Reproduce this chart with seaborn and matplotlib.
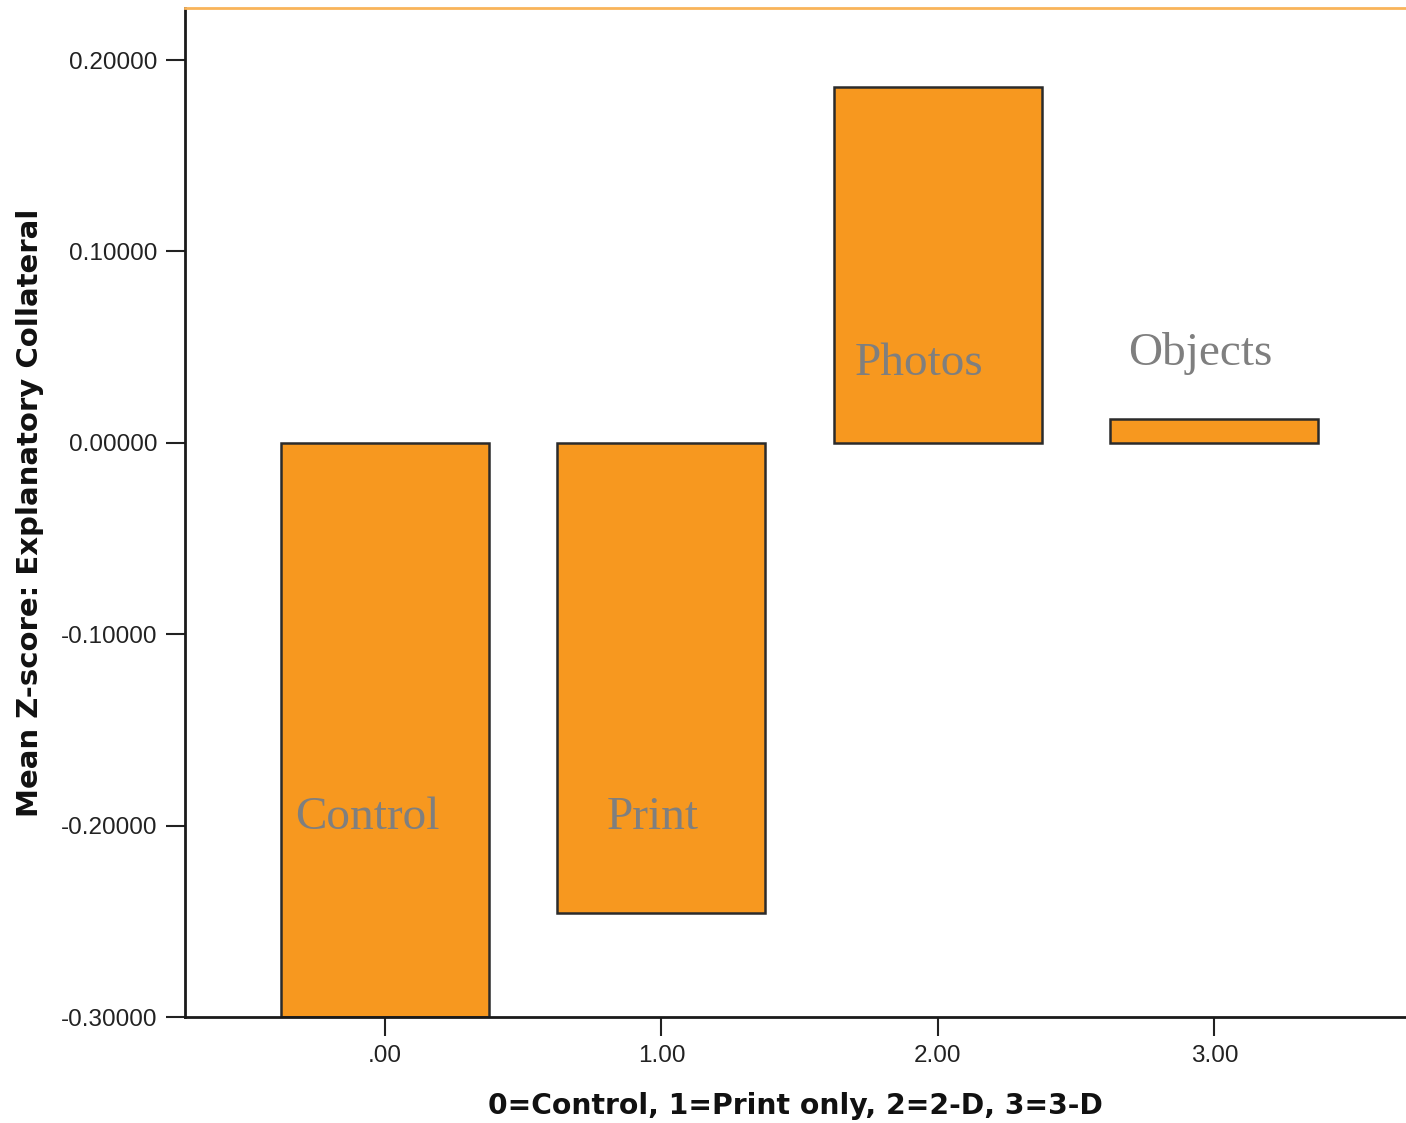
import matplotlib
matplotlib.use("Agg")
import matplotlib.pyplot as plt
import seaborn as sns
import pandas as pd

# data
groups = [".00", "1.00", "2.00", "3.00"]
mean_z = [-0.300, -0.2455, 0.1860, 0.0125]
group_names = ["Control", "Print", "Photos", "Objects"]
y_ticks = [-0.3, -0.2, -0.1, 0.0, 0.1, 0.2]
y_tick_labels = ["-0.30000", "-0.20000", "-0.10000", "0.00000", "0.10000", "0.20000"]

sns.set_style("white")
plt.rcParams['font.family'] = ['Liberation Sans', 'DejaVu Sans']

fig = plt.figure(figsize=(14.06, 11.23), dpi=100)
ax = fig.add_axes([185/1406, 1 - 1017/1123, 1 - 185/1406, (1017 - 8)/1123])

df = pd.DataFrame({"group": groups, "mean": mean_z})
sns.barplot(data=df, x="group", y="mean", order=groups, color="#F7981F",
            saturation=1, width=0.752, edgecolor="#2b2b2b", linewidth=1.8, ax=ax)

ax.set_xlim(-0.723, 3.693)
ax.set_ylim(-0.30, 0.2272)
ax.set_yticks(y_ticks)
ax.set_yticklabels(y_tick_labels)

ax.tick_params(axis="both", which="both", direction="out", length=14, width=1.5,
               color="#222222", labelsize=17.5, labelcolor="#222222", pad=6,
               left=True, bottom=True)

for side in ["left", "bottom"]:
    ax.spines[side].set_color("#1a1a1a")
    ax.spines[side].set_linewidth(2)
ax.spines["top"].set_color("#F9B45A")
ax.spines["top"].set_linewidth(2)
ax.spines["right"].set_visible(False)

ax.set_xlabel("0=Control, 1=Print only, 2=2-D, 3=3-D", fontsize=20.3, fontweight="bold",
              color="#111111", labelpad=18, family="DejaVu Sans")
ax.set_ylabel("Mean Z-score: Explanatory Collateral", fontsize=21, fontweight="bold",
              color="#111111", labelpad=12, family="DejaVu Sans")

# group name annotations (positions in data coordinates)
label_pos = [(-0.325, -0.202), (0.803, -0.202), (1.70, 0.0355), (2.687, 0.0405)]
for name, (lx, ly) in zip(group_names, label_pos):
    ax.text(lx, ly, name, fontsize=34, color="#7f7f7f", family="Liberation Serif",
            ha="left", va="baseline")

fig.savefig("out.png", dpi=100)
